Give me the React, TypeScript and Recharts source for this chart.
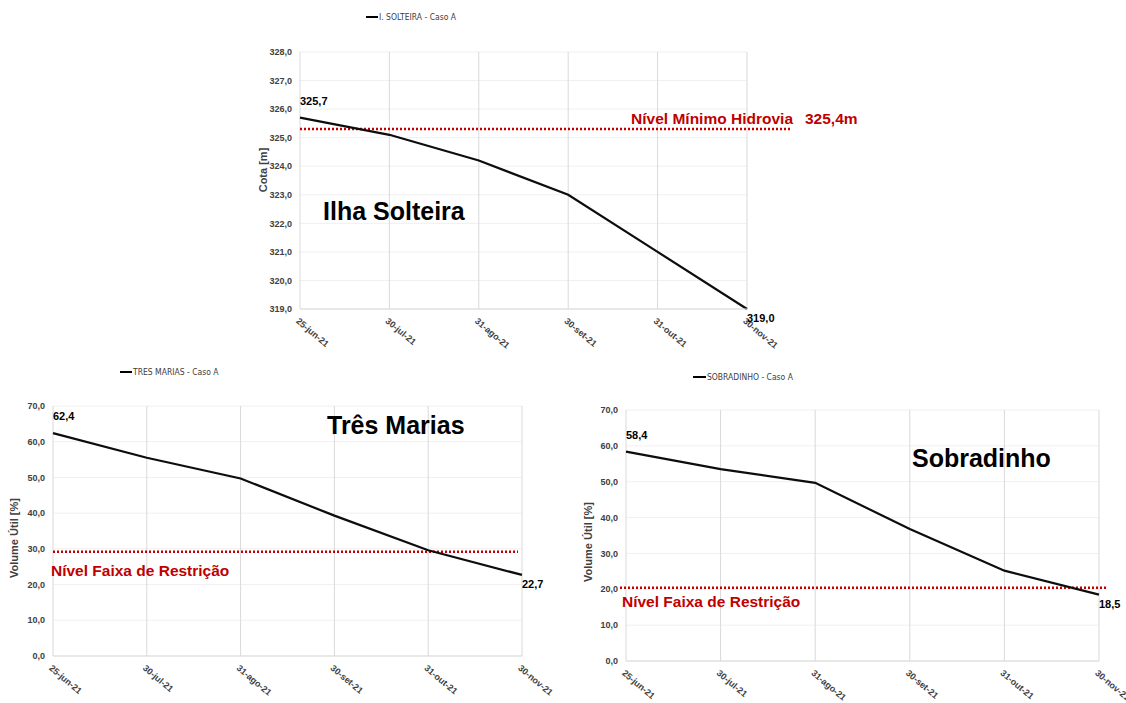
import React from 'react';
import {
  LineChart,
  Line,
  XAxis,
  YAxis,
  CartesianGrid,
  ReferenceLine,
  LabelList
} from 'recharts';

// dates are plotted as equally spaced categories, like the Excel original
const categories = ['25-jun-21', '30-jul-21', '31-ago-21', '30-set-21', '31-out-21', '30-nov-21'];

const ilhaSolteira = [325.7, 325.1, 324.2, 323.0, 321.0, 319.0];
const tresMarias = [62.4, 55.5, 49.7, 39.3, 29.6, 22.7];
const sobradinho = [58.4, 53.5, 49.7, 36.8, 25.2, 18.5];

const cotaTicks = [319, 320, 321, 322, 323, 324, 325, 326, 327, 328];
const volumeTicks = [0, 10, 20, 30, 40, 50, 60, 70];

const hidroviaLevel = 325.3;
const tresMariasRestricao = 29.2;
const sobradinhoRestricao = 20.4;

const NARROW = "'DejaVu Sans Condensed', 'Arial Narrow', sans-serif";
const SANS = "'Liberation Sans', Arial, sans-serif";
const RED = '#C00000';
const TICK = '#404040';

const fmt = (v: number) => v.toFixed(1).replace('.', ',');

const buildRows = (values: number[]) =>
  categories.map((date, i) => ({ date, value: values[i] }));

const AngledTick = (props: any) => {
  const { x, y, payload } = props;
  return (
    <text
      transform={`translate(${x - 2},${y + 2}) rotate(40)`}
      x={0}
      y={0}
      dy={4}
      textAnchor="start"
      fill={TICK}
      fontFamily={SANS}
      fontWeight="bold"
      fontSize={9}
    >
      {payload.value}
    </text>
  );
};

const EndLabel = (props: any) => {
  const { x, y, index, value } = props;
  if (index !== 0 && index !== categories.length - 1) return null;
  const first = index === 0;
  return (
    <text
      x={x}
      y={first ? y - 13 : y + 13}
      fill="#000"
      fontFamily={SANS}
      fontWeight="bold"
      fontSize={11}
    >
      {fmt(Number(value))}
    </text>
  );
};

interface ChartProps {
  left: number;
  top: number;
  width: number;
  height: number;
  margin: { top: number; right: number; left: number; bottom: number };
  yAxisWidth: number;
  values: number[];
  domain: [number, number];
  ticks: number[];
  limit: number;
  extendStart: number;
  extendEnd: number;
  renderLimitLabel: (vb: { x: number; y: number; width: number }) => React.ReactNode;
}

const ReservoirChart: React.FC<ChartProps> = ({
  left, top, width, height, margin, yAxisWidth, values, domain, ticks, limit, extendStart, extendEnd, renderLimitLabel
}) => (
  <div style={{ position: 'absolute', left, top }}>
    <LineChart width={width} height={height} data={buildRows(values)} margin={margin}>
      <CartesianGrid horizontal vertical={false} stroke="#f0f0f0" />
      <CartesianGrid horizontal={false} vertical stroke="#d9d9d9" />
      <XAxis
        dataKey="date"
        interval={0}
        height={40}
        tick={<AngledTick />}
        tickLine={false}
        axisLine={{ stroke: '#d9d9d9' }}
      />
      <YAxis
        width={yAxisWidth}
        domain={domain}
        ticks={ticks}
        tickFormatter={fmt}
        axisLine={false}
        tickLine={false}
        tick={{ fill: TICK, fontFamily: SANS, fontWeight: 'bold', fontSize: 9 }}
      />
      <ReferenceLine
        y={limit}
        stroke={RED}
        shape={(p: any) => (
          <line
            x1={p.x1 + extendStart}
            y1={p.y1}
            x2={p.x2 + extendEnd}
            y2={p.y2}
            stroke={RED}
            strokeWidth={2.5}
            strokeDasharray="2 2"
          />
        )}
        label={(p: any) => (p && p.viewBox ? renderLimitLabel(p.viewBox) : null)}
      />
      <Line
        type="linear"
        dataKey="value"
        stroke="#0d0d0d"
        strokeWidth={2.2}
        dot={false}
        isAnimationActive={false}
      >
        <LabelList dataKey="value" content={<EndLabel />} />
      </Line>
    </LineChart>
  </div>
);

const redText = { fill: RED, fontFamily: SANS, fontWeight: 'bold' as const, fontSize: 15.5 };

export default function App() {
  return (
    <div style={{ position: 'absolute', left: 0, top: 0, width: 1126, height: 703, background: '#fff', overflow: 'hidden' }}>
      <ReservoirChart
        left={250}
        top={0}
        width={640}
        height={360}
        margin={{ top: 52, right: 143, left: 20, bottom: 11 }}
        yAxisWidth={30}
        values={ilhaSolteira}
        domain={[319, 328]}
        ticks={cotaTicks}
        limit={hidroviaLevel}
        extendStart={0}
        extendEnd={43}
        renderLimitLabel={(vb) => (
          <g>
            <text x={vb.x + vb.width + 46} y={vb.y - 5} textAnchor="end" {...redText}>
              Nível Mínimo Hidrovia
            </text>
            <text x={vb.x + vb.width + 58} y={vb.y - 5} {...redText}>
              325,4m
            </text>
          </g>
        )}
      />
      <ReservoirChart
        left={0}
        top={360}
        width={560}
        height={343}
        margin={{ top: 46, right: 38, left: 13, bottom: 7 }}
        yAxisWidth={40}
        values={tresMarias}
        domain={[0, 70]}
        ticks={volumeTicks}
        limit={tresMariasRestricao}
        extendStart={0}
        extendEnd={-4}
        renderLimitLabel={(vb) => (
          <text x={vb.x - 2} y={vb.y + 24} {...redText}>
            Nível Faixa de Restrição
          </text>
        )}
      />
      <ReservoirChart
        left={570}
        top={360}
        width={556}
        height={343}
        margin={{ top: 50, right: 27, left: 16, bottom: 2 }}
        yAxisWidth={40}
        values={sobradinho}
        domain={[0, 70]}
        ticks={volumeTicks}
        limit={sobradinhoRestricao}
        extendStart={-6}
        extendEnd={7}
        renderLimitLabel={(vb) => (
          <text x={vb.x - 4} y={vb.y + 19} {...redText}>
            Nível Faixa de Restrição
          </text>
        )}
      />

      {/* legends, axis titles and reservoir names */}
      <svg width={1126} height={703} style={{ position: 'absolute', left: 0, top: 0, pointerEvents: 'none' }}>
        <g fontFamily={NARROW} fontSize={8.5} fill={TICK}>
          <line x1={366} y1={17} x2={378} y2={17} stroke="#000" strokeWidth={2} />
          <text x={379} y={20}>I. SOLTEIRA - Caso A</text>
          <line x1={120} y1={372} x2={132} y2={372} stroke="#000" strokeWidth={2} />
          <text x={133} y={375}>TRES MARIAS - Caso A</text>
          <line x1={693} y1={377} x2={706} y2={377} stroke="#000" strokeWidth={2} />
          <text x={707} y={380}>SOBRADINHO - Caso A</text>
        </g>
        <g fontFamily={SANS} fontSize={11} fontWeight="bold" fill={TICK} textAnchor="middle">
          <text transform="translate(267,170) rotate(-90)">Cota [m]</text>
          <text transform="translate(18,538) rotate(-90)">Volume Útil [%]</text>
          <text transform="translate(592,542) rotate(-90)">Volume Útil [%]</text>
        </g>
        <g fontFamily={SANS} fontSize={25} fontWeight="bold" fill="#000">
          <text x={323} y={220}>Ilha Solteira</text>
          <text x={327} y={434}>Três Marias</text>
          <text x={912} y={467}>Sobradinho</text>
        </g>
      </svg>
    </div>
  );
}
